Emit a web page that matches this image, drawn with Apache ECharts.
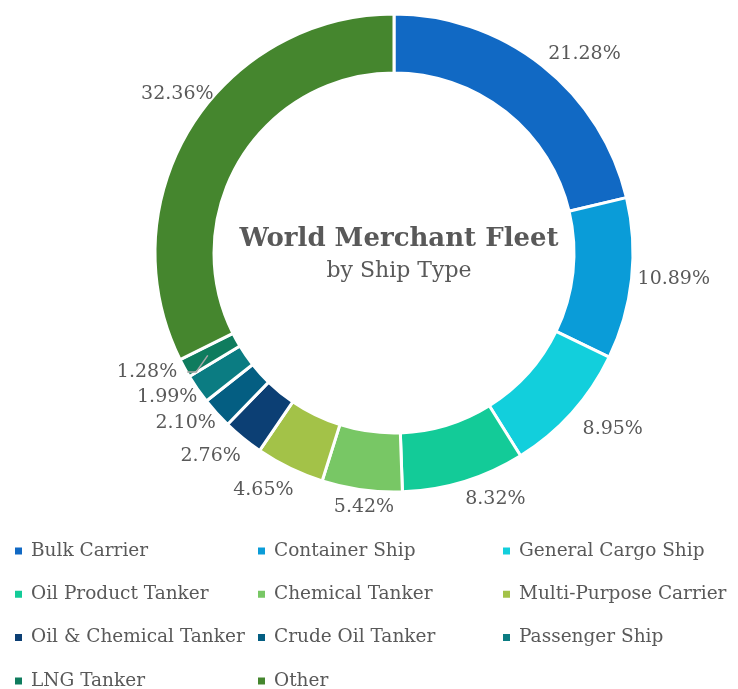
<!DOCTYPE html>
<html>
<head>
<meta charset="utf-8">
<script src="https://cdn.jsdelivr.net/npm/echarts@6/dist/echarts.min.js"></script>
<style>
  html, body { margin: 0; padding: 0; background: #ffffff; }
  #chart { width: 738px; height: 689px; }
</style>
</head>
<body>
<div id="chart"></div>
<script>
// Share of the world merchant fleet by ship type (percent)
const categories = [
  'Bulk Carrier', 'Container Ship', 'General Cargo Ship', 'Oil Product Tanker',
  'Chemical Tanker', 'Multi-Purpose Carrier', 'Oil & Chemical Tanker',
  'Crude Oil Tanker', 'Passenger Ship', 'LNG Tanker', 'Other'
];
const shares = [21.28, 10.89, 8.95, 8.32, 5.42, 4.65, 2.76, 2.10, 1.99, 1.28, 32.36];
const palette = [
  '#1169c4', '#0a9cd8', '#12cfdc', '#13cb98', '#78c765', '#a3c248',
  '#0c3f74', '#045e82', '#0b7c82', '#0f7c5e', '#45862e'
];

// Legend columns (item indices), laid out as a three-column grid
const legendColumns = [[0, 3, 6, 9], [1, 4, 7, 10], [2, 5, 8]];

const FONT = 'DejaVu Serif';
const TEXT = '#595959';
const LABEL_SIZE = 19;
const CX = 394, CY = 253, R_IN = 180, R_OUT = 239;
const LEADER_INDEX = 9; // the thinnest slice gets a leader line

// Fine adjustment of each percent label (px), so crowded labels on the
// lower left stay apart and the big slice's label sits above its edge
const labelShift = [
  [3, 4], [1, -3], [7, 2], [8, 1], [13, 1], [6, 6],
  [1, 3], [3, -5], [4, -6], [-3, -10], [27, -19]
];

// Mid angle of each slice, clockwise from 12 o'clock (radians)
const total = shares.reduce((a, b) => a + b, 0);
const midAngles = [];
{
  let acc = 0;
  shares.forEach(v => { midAngles.push((acc + v / 2) / total * 2 * Math.PI); acc += v; });
}
const clamp = v => Math.max(-1, Math.min(1, v));
const fmt = v => v.toFixed(2) + '%';

// Text width measurement for placing labels just outside the ring
const measureCtx = document.createElement('canvas').getContext('2d');
measureCtx.font = LABEL_SIZE + 'px "' + FONT + '"';
const textWidth = s => measureCtx.measureText(s).width;

// Centre of label i, just beyond the outer edge of its slice
function labelCenter(i) {
  const t = midAngles[i];
  const s = Math.sin(t), c = Math.cos(t);
  const rr = R_OUT + 5;
  const hw = textWidth(fmt(shares[i])) / 2;
  const hh = LABEL_SIZE * 0.6;
  return {
    x: CX + rr * s + hw * clamp(2.5 * s) + labelShift[i][0],
    y: CY - rr * c + hh * clamp(-2.5 * c) + labelShift[i][1],
    hw
  };
}

// Leader: from inside the thin slice, bending to run level into its label
function leaderPoints(i) {
  const t = midAngles[i];
  const rm = (R_IN + R_OUT) / 2 + 3;
  const lc = labelCenter(i);
  return [
    [CX + rm * Math.sin(t), CY - rm * Math.cos(t)],
    [lc.x + lc.hw + 19, lc.y],
    [lc.x + lc.hw + 10, lc.y]
  ];
}

const chart = echarts.init(document.getElementById('chart'), null, { renderer: 'canvas' });

const option = {
  animation: false,
  color: palette,
  title: {
    text: 'World Merchant Fleet',
    subtext: 'by Ship Type',
    left: CX,
    top: 221,
    textAlign: 'center',
    itemGap: 8,
    textStyle: { fontFamily: FONT, fontSize: 26, fontWeight: 'bold', color: TEXT },
    subtextStyle: { fontFamily: FONT, fontSize: 22, color: TEXT }
  },
  legend: legendColumns.map((col, c) => ({
    orient: 'vertical',
    left: [13, 256, 501][c],
    top: 541,
    height: 160,
    padding: 0,
    itemWidth: 9,
    itemHeight: 9,
    itemGap: 23.3,
    icon: 'rect',
    selectedMode: false,
    data: col.map(i => categories[i]),
    textStyle: { fontFamily: FONT, fontSize: 18.5, color: TEXT, lineHeight: 20, padding: [0, 0, 0, 3] }
  })),
  series: [{
    type: 'pie',
    center: [CX, CY],
    radius: [R_IN, R_OUT],
    startAngle: 90,
    clockwise: true,
    avoidLabelOverlap: false,
    itemStyle: { borderColor: '#ffffff', borderWidth: 3 },
    label: {
      show: true,
      position: 'outside',
      formatter: p => fmt(p.value),
      fontFamily: FONT,
      fontSize: LABEL_SIZE,
      color: TEXT
    },
    labelLine: { show: false, length: 5, length2: 0 },
    emphasis: { disabled: true },
    data: categories.map((name, i) => ({ name, value: shares[i] })),
    labelLayout: function (params) {
      const lc = labelCenter(params.dataIndex);
      return { x: lc.x, y: lc.y, align: 'center', verticalAlign: 'middle' };
    }
  }],
  graphic: [{
    type: 'polyline',
    z: 100,
    silent: true,
    shape: { points: leaderPoints(LEADER_INDEX) },
    style: { stroke: '#a6a6a6', lineWidth: 1.5, fill: null }
  }]
};

chart.setOption(option);
</script>
</body>
</html>
